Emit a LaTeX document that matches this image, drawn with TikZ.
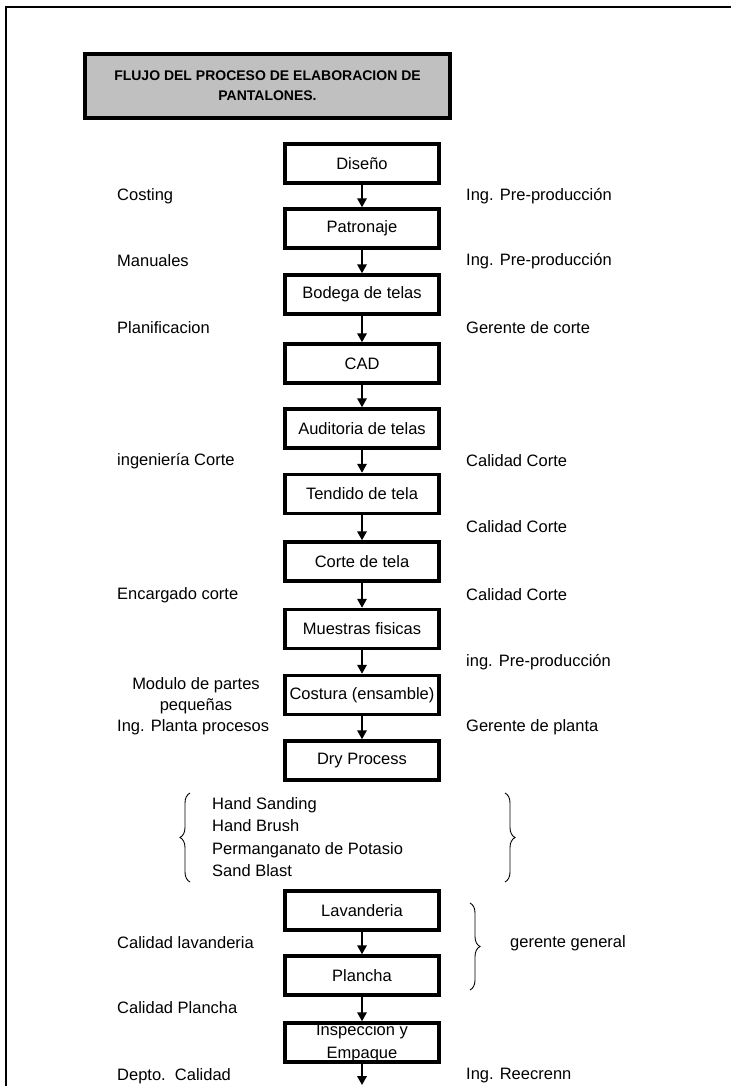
\documentclass[tikz,border=0pt]{standalone}
\usepackage{fontspec}
\setmainfont{Liberation Sans}
\usetikzlibrary{arrows.meta,positioning,decorations.pathreplacing}
\definecolor{flujoGray}{HTML}{C0C0C0}
\definecolor{flujoInk}{HTML}{000000}
\tikzset{
  process/.style={
    rectangle,
    draw=flujoInk,
    fill=white,
    line width=3.5pt,
    minimum width=154pt,
    minimum height=39pt,
    inner sep=0pt,
    align=center,
    font=\fontsize{16.5}{19}\selectfont
  },
  titleBox/.style={
    rectangle,
    draw=flujoInk,
    fill=flujoGray,
    line width=3.5pt,
    minimum width=365pt,
    minimum height=64pt,
    inner sep=0pt,
    align=center,
    font=\fontsize{14}{20}\selectfont\bfseries
  },
  sideLabel/.style={
    anchor=west,
    inner sep=0pt,
    font=\fontsize{16.5}{19}\selectfont
  },
  flowArrow/.style={
    -{Triangle[length=9pt,width=9.5pt]},
    line width=1.9pt,
    draw=flujoInk
  },
  groupBrace/.style={
    decorate,
    decoration={brace,amplitude=10pt},
    line width=0.9pt,
    draw=flujoInk
  }
}

\begin{document}
\begin{tikzpicture}[x=1pt,y=-1pt]
  \useasboundingbox (0,0) rectangle (731,1086);
  \draw[line width=2pt,draw=flujoInk] (6,1086) -- (6,7) -- (731,7);
  \node[titleBox] (title) at (267.5,86) {FLUJO DEL PROCESO DE ELABORACION DE\\PANTALONES.};
  \node[process] (diseno) at (362,163.5) {Diseño};
  \node[process] (patronaje) at (362,228.5) {Patronaje};
  \node[process] (bodega) at (362,294.5) {Bodega de telas};
  \node[process] (cad) at (362,363.5) {CAD};
  \node[process] (auditoria) at (362,428.5) {Auditoria de telas};
  \node[process] (tendido) at (362,494) {Tendido de tela};
  \node[process] (corte) at (362,561.5) {Corte de tela};
  \node[process] (muestras) at (362,629) {Muestras fisicas};
  \node[process] (costura) at (362,695) {Costura (ensamble)};
  \node[process] (dry) at (362,760.5) {Dry Process};
  \node[process] (lavanderia) at (362,910.5) {Lavanderia};
  \node[process] (plancha) at (362,975.5) {Plancha};
  \node[process,font=\fontsize{16.5}{23}\selectfont] (inspeccion) at (362,1042.5) {Inspeccion y\\Empaque};
  \coordinate (flowEnd) at (362,1085);
  \draw[flowArrow] (diseno) -- (patronaje);
  \draw[flowArrow] (patronaje) -- (bodega);
  \draw[flowArrow] (bodega) -- (cad);
  \draw[flowArrow] (cad) -- (auditoria);
  \draw[flowArrow] (auditoria) -- (tendido);
  \draw[flowArrow] (tendido) -- (corte);
  \draw[flowArrow] (corte) -- (muestras);
  \draw[flowArrow] (muestras) -- (costura);
  \draw[flowArrow] (costura) -- (dry);
  \draw[flowArrow] (lavanderia) -- (plancha);
  \draw[flowArrow] (plancha) -- (inspeccion);
  \draw[flowArrow] (inspeccion) -- (flowEnd);
  \node[sideLabel] (costing) at (117,196) {Costing};
  \node[sideLabel] (preprodA) at (466,196) {Ing. Pre-producción};
  \node[sideLabel] (manuales) at (117,261) {Manuales};
  \node[sideLabel] (preprodB) at (466,261) {Ing. Pre-producción};
  \node[sideLabel] (planificacion) at (117,328) {Planificacion};
  \node[sideLabel] (gerenteCorte) at (466,328) {Gerente de corte};
  \node[sideLabel] (ingCorte) at (117,461) {ingeniería Corte};
  \node[sideLabel] (calidadCorteA) at (466,461) {Calidad Corte};
  \node[sideLabel] (calidadCorteB) at (466,527) {Calidad Corte};
  \node[sideLabel] (encargado) at (117,595) {Encargado corte};
  \node[sideLabel] (calidadCorteC) at (466,595) {Calidad Corte};
  \node[sideLabel] (preprodC) at (466,662) {ing. Pre-producción};
  \node[sideLabel,anchor=center,align=center,font=\fontsize{16.5}{21}\selectfont] (modulo) at (196,695.5) {Modulo de partes\\pequeñas};
  \node[sideLabel] (plantaProcesos) at (117,727) {Ing. Planta procesos};
  \node[sideLabel] (gerentePlanta) at (466,727) {Gerente de planta};
  \node[sideLabel,align=left,font=\fontsize{16.5}{22.3}\selectfont] (dryList) at (212,837) {Hand Sanding\\Hand Brush\\Permanganato de Potasio\\Sand Blast};
  \draw[groupBrace] (190,882) -- (190,793);
  \draw[groupBrace] (505,793) -- (505,882);
  \node[sideLabel] (calidadLav) at (117,943) {Calidad lavanderia};
  \draw[groupBrace] (470,903) -- (470,990);
  \node[sideLabel] (gerenteGeneral) at (510,943) {gerente general};
  \node[sideLabel] (calidadPlancha) at (117,1008) {Calidad Plancha};
  \node[sideLabel] (depto) at (117,1076) {Depto.\ \ Calidad};
  \node[sideLabel] (reecrenn) at (466,1076) {Ing. Reecrenn};
\end{tikzpicture}
\end{document}
